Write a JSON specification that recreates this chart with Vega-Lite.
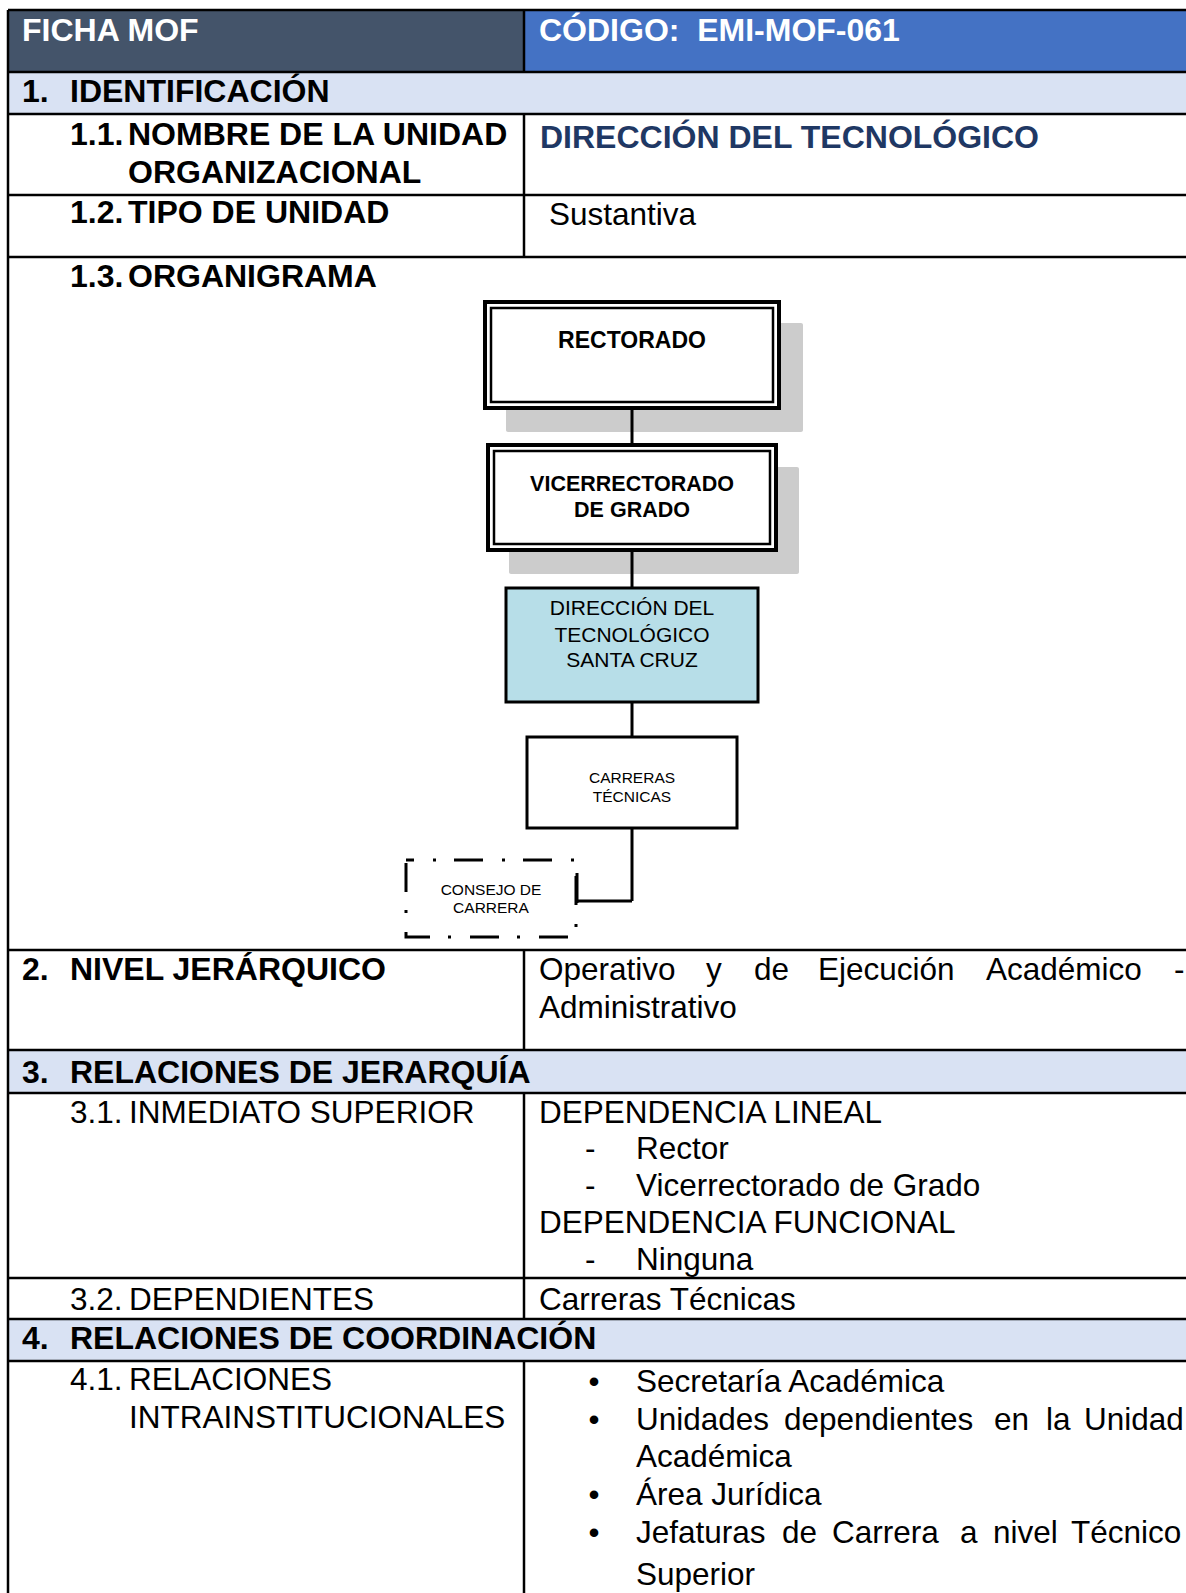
{
  "$schema": "https://vega.github.io/schema/vega-lite/v6.json",
  "width": 1186,
  "height": 1593,
  "padding": 0,
  "autosize": {"type": "none"},
  "background": "white",
  "config": {"view": {"stroke": null}, "text": {"font": "Liberation Sans"}},
  "datasets": {
    "fills": [
      {"k": "dark", "x": 8, "x2": 524, "y": 10, "y2": 72},
      {"k": "blue", "x": 524, "x2": 1186, "y": 10, "y2": 72},
      {"k": "band", "x": 8, "x2": 1186, "y": 72, "y2": 114},
      {"k": "band", "x": 8, "x2": 1186, "y": 1050, "y2": 1093},
      {"k": "band", "x": 8, "x2": 1186, "y": 1319, "y2": 1361},
      {"k": "shadow", "x": 506, "x2": 803, "y": 323, "y2": 432},
      {"k": "shadow", "x": 509, "x2": 799, "y": 467, "y2": 574}
    ],
    "boxes": [
      {"k": "outer", "x": 485, "x2": 779, "y": 302, "y2": 408},
      {"k": "inner", "x": 491, "x2": 773, "y": 308, "y2": 402},
      {"k": "outer", "x": 488, "x2": 776, "y": 445, "y2": 550},
      {"k": "inner", "x": 494, "x2": 770, "y": 451, "y2": 544},
      {"k": "unit", "x": 506, "x2": 758, "y": 588, "y2": 702},
      {"k": "plain", "x": 527, "x2": 737, "y": 737, "y2": 828},
      {"k": "dashed", "x": 406, "x2": 576, "y": 860, "y2": 937}
    ],
    "lines": [
      {"k": "table", "x": 8, "x2": 1186, "y": 10, "y2": 10},
      {"k": "table", "x": 8, "x2": 1186, "y": 72, "y2": 72},
      {"k": "table", "x": 8, "x2": 1186, "y": 114, "y2": 114},
      {"k": "table", "x": 8, "x2": 1186, "y": 195, "y2": 195},
      {"k": "table", "x": 8, "x2": 1186, "y": 257, "y2": 257},
      {"k": "table", "x": 8, "x2": 1186, "y": 950, "y2": 950},
      {"k": "table", "x": 8, "x2": 1186, "y": 1050, "y2": 1050},
      {"k": "table", "x": 8, "x2": 1186, "y": 1093, "y2": 1093},
      {"k": "table", "x": 8, "x2": 1186, "y": 1278, "y2": 1278},
      {"k": "table", "x": 8, "x2": 1186, "y": 1319, "y2": 1319},
      {"k": "table", "x": 8, "x2": 1186, "y": 1361, "y2": 1361},
      {"k": "table", "x": 8, "x2": 8, "y": 10, "y2": 1593},
      {"k": "table", "x": 524, "x2": 524, "y": 10, "y2": 72},
      {"k": "table", "x": 524, "x2": 524, "y": 114, "y2": 257},
      {"k": "table", "x": 524, "x2": 524, "y": 950, "y2": 1050},
      {"k": "table", "x": 524, "x2": 524, "y": 1093, "y2": 1319},
      {"k": "table", "x": 524, "x2": 524, "y": 1361, "y2": 1593},
      {"k": "link", "x": 632, "x2": 632, "y": 408, "y2": 445},
      {"k": "link", "x": 632, "x2": 632, "y": 550, "y2": 588},
      {"k": "link", "x": 632, "x2": 632, "y": 702, "y2": 737},
      {"k": "link", "x": 632, "x2": 632, "y": 828, "y2": 901},
      {"k": "link", "x": 632, "x2": 576, "y": 901, "y2": 901},
      {"k": "link", "x": 577, "x2": 577, "y": 873, "y2": 903}
    ],
    "texts": [
      {"k": "hw", "t": "FICHA MOF", "x": 22, "y": 41},
      {"k": "hw", "t": "CÓDIGO: \u00a0EMI-MOF-061", "x": 539, "y": 41},
      {"k": "b", "t": "1.", "x": 22, "y": 102},
      {"k": "b", "t": "IDENTIFICACIÓN", "x": 70, "y": 102},
      {"k": "b", "t": "1.1.", "x": 70, "y": 145},
      {"k": "b", "t": "NOMBRE DE LA UNIDAD", "x": 128, "y": 145},
      {"k": "b", "t": "ORGANIZACIONAL", "x": 128, "y": 183},
      {"k": "nb", "t": "DIRECCIÓN DEL TECNOLÓGICO", "x": 540, "y": 148},
      {"k": "b", "t": "1.2.", "x": 70, "y": 223},
      {"k": "b", "t": "TIPO DE UNIDAD", "x": 128, "y": 223},
      {"k": "r", "t": "Sustantiva", "x": 549, "y": 225},
      {"k": "b", "t": "1.3.", "x": 70, "y": 287},
      {"k": "b", "t": "ORGANIGRAMA", "x": 128, "y": 287},
      {"k": "b", "t": "2.", "x": 22, "y": 980},
      {"k": "b", "t": "NIVEL JERÁRQUICO", "x": 70, "y": 980},
      {"k": "r", "t": "Operativo", "x": 539, "y": 980},
      {"k": "r", "t": "y", "x": 706, "y": 980},
      {"k": "r", "t": "de", "x": 754, "y": 980},
      {"k": "r", "t": "Ejecución", "x": 818, "y": 980},
      {"k": "r", "t": "Académico", "x": 986, "y": 980},
      {"k": "r", "t": "-", "x": 1174, "y": 980},
      {"k": "r", "t": "Administrativo", "x": 539, "y": 1018},
      {"k": "b", "t": "3.", "x": 22, "y": 1083},
      {"k": "b", "t": "RELACIONES DE JERARQUÍA", "x": 70, "y": 1083},
      {"k": "r", "t": "3.1.", "x": 70, "y": 1123},
      {"k": "r", "t": "INMEDIATO SUPERIOR", "x": 129, "y": 1123},
      {"k": "r", "t": "DEPENDENCIA LINEAL", "x": 539, "y": 1123},
      {"k": "r", "t": "-", "x": 585, "y": 1159},
      {"k": "r", "t": "Rector", "x": 636, "y": 1159},
      {"k": "r", "t": "-", "x": 585, "y": 1196},
      {"k": "r", "t": "Vicerrectorado de Grado", "x": 636, "y": 1196},
      {"k": "r", "t": "DEPENDENCIA FUNCIONAL", "x": 539, "y": 1233},
      {"k": "r", "t": "-", "x": 585, "y": 1270},
      {"k": "r", "t": "Ninguna", "x": 636, "y": 1270},
      {"k": "r", "t": "3.2.", "x": 70, "y": 1310},
      {"k": "r", "t": "DEPENDIENTES", "x": 129, "y": 1310},
      {"k": "r", "t": "Carreras Técnicas", "x": 539, "y": 1310},
      {"k": "b", "t": "4.", "x": 22, "y": 1349},
      {"k": "b", "t": "RELACIONES DE COORDINACIÓN", "x": 70, "y": 1349},
      {"k": "r", "t": "4.1.", "x": 70, "y": 1390},
      {"k": "r", "t": "RELACIONES", "x": 129, "y": 1390},
      {"k": "r", "t": "INTRAINSTITUCIONALES", "x": 129, "y": 1428},
      {"k": "bullet", "t": "•", "x": 594, "y": 1392},
      {"k": "bullet", "t": "•", "x": 594, "y": 1430},
      {"k": "bullet", "t": "•", "x": 594, "y": 1505},
      {"k": "bullet", "t": "•", "x": 594, "y": 1543},
      {"k": "r", "t": "Secretaría Académica", "x": 636, "y": 1392},
      {"k": "r", "t": "Unidades", "x": 636, "y": 1430},
      {"k": "r", "t": "dependientes", "x": 784, "y": 1430},
      {"k": "r", "t": "en", "x": 994, "y": 1430},
      {"k": "r", "t": "la", "x": 1046, "y": 1430},
      {"k": "r", "t": "Unidad", "x": 1084, "y": 1430},
      {"k": "r", "t": "Académica", "x": 636, "y": 1467},
      {"k": "r", "t": "Área Jurídica", "x": 636, "y": 1505},
      {"k": "r", "t": "Jefaturas", "x": 636, "y": 1543},
      {"k": "r", "t": "de", "x": 782, "y": 1543},
      {"k": "r", "t": "Carrera", "x": 832, "y": 1543},
      {"k": "r", "t": "a", "x": 960, "y": 1543},
      {"k": "r", "t": "nivel", "x": 993, "y": 1543},
      {"k": "r", "t": "Técnico", "x": 1071, "y": 1543},
      {"k": "r", "t": "Superior", "x": 636, "y": 1585},
      {"k": "o1", "t": "RECTORADO", "x": 632, "y": 348},
      {"k": "o2", "t": "VICERRECTORADO", "x": 632, "y": 491},
      {"k": "o2", "t": "DE GRADO", "x": 632, "y": 517},
      {"k": "o3", "t": "DIRECCIÓN DEL", "x": 632, "y": 615},
      {"k": "o3", "t": "TECNOLÓGICO", "x": 632, "y": 642},
      {"k": "o3", "t": "SANTA CRUZ", "x": 632, "y": 667},
      {"k": "o4", "t": "CARRERAS", "x": 632, "y": 783},
      {"k": "o4", "t": "TÉCNICAS", "x": 632, "y": 802},
      {"k": "o4", "t": "CONSEJO DE", "x": 491, "y": 895},
      {"k": "o4", "t": "CARRERA", "x": 491, "y": 913}
    ]
  },
  "encoding": {
    "x": {"field": "x", "type": "quantitative", "scale": {"domain": [0, 1186], "nice": false, "zero": false}, "axis": null},
    "y": {"field": "y", "type": "quantitative", "scale": {"domain": [0, 1593], "nice": false, "zero": false, "reverse": true}, "axis": null}
  },
  "layer": [
    {"data": {"name": "fills"}, "transform": [{"filter": "datum.k == 'dark'"}], "mark": {"type": "rect", "fill": "#44546A"}, "encoding": {"x2": {"field": "x2"}, "y2": {"field": "y2"}}},
    {"data": {"name": "fills"}, "transform": [{"filter": "datum.k == 'blue'"}], "mark": {"type": "rect", "fill": "#4472C4"}, "encoding": {"x2": {"field": "x2"}, "y2": {"field": "y2"}}},
    {"data": {"name": "fills"}, "transform": [{"filter": "datum.k == 'band'"}], "mark": {"type": "rect", "fill": "#D9E2F3"}, "encoding": {"x2": {"field": "x2"}, "y2": {"field": "y2"}}},
    {"data": {"name": "fills"}, "transform": [{"filter": "datum.k == 'shadow'"}], "mark": {"type": "rect", "fill": "#CCCCCC", "cornerRadius": 2}, "encoding": {"x2": {"field": "x2"}, "y2": {"field": "y2"}}},
    {"data": {"name": "boxes"}, "transform": [{"filter": "datum.k == 'outer'"}], "mark": {"type": "rect", "fill": "white", "stroke": "black", "strokeWidth": 4}, "encoding": {"x2": {"field": "x2"}, "y2": {"field": "y2"}}},
    {"data": {"name": "boxes"}, "transform": [{"filter": "datum.k == 'inner'"}], "mark": {"type": "rect", "fill": "white", "stroke": "black", "strokeWidth": 2.5}, "encoding": {"x2": {"field": "x2"}, "y2": {"field": "y2"}}},
    {"data": {"name": "boxes"}, "transform": [{"filter": "datum.k == 'unit'"}], "mark": {"type": "rect", "fill": "#B7DEE8", "stroke": "black", "strokeWidth": 3}, "encoding": {"x2": {"field": "x2"}, "y2": {"field": "y2"}}},
    {"data": {"name": "boxes"}, "transform": [{"filter": "datum.k == 'plain'"}], "mark": {"type": "rect", "fill": "white", "stroke": "black", "strokeWidth": 3}, "encoding": {"x2": {"field": "x2"}, "y2": {"field": "y2"}}},
    {"data": {"name": "boxes"}, "transform": [{"filter": "datum.k == 'dashed'"}], "mark": {"type": "rect", "fill": "white", "stroke": "black", "strokeWidth": 3, "strokeDash": [29, 19, 3, 18], "strokeDashOffset": 21}, "encoding": {"x2": {"field": "x2"}, "y2": {"field": "y2"}}},
    {"data": {"name": "lines"}, "transform": [{"filter": "datum.k == 'table'"}], "mark": {"type": "rule", "stroke": "black", "strokeWidth": 2.5}, "encoding": {"x2": {"field": "x2"}, "y2": {"field": "y2"}}},
    {"data": {"name": "lines"}, "transform": [{"filter": "datum.k == 'link'"}], "mark": {"type": "rule", "stroke": "black", "strokeWidth": 3}, "encoding": {"x2": {"field": "x2"}, "y2": {"field": "y2"}}},
    {"data": {"name": "texts"}, "transform": [{"filter": "datum.k == 'hw'"}], "mark": {"type": "text", "align": "left", "baseline": "alphabetic", "fontSize": 32, "fontWeight": "bold", "fill": "white"}, "encoding": {"text": {"field": "t"}}},
    {"data": {"name": "texts"}, "transform": [{"filter": "datum.k == 'b'"}], "mark": {"type": "text", "align": "left", "baseline": "alphabetic", "fontSize": 32, "fontWeight": "bold", "fill": "black"}, "encoding": {"text": {"field": "t"}}},
    {"data": {"name": "texts"}, "transform": [{"filter": "datum.k == 'nb'"}], "mark": {"type": "text", "align": "left", "baseline": "alphabetic", "fontSize": 32, "fontWeight": "bold", "fill": "#1F3864"}, "encoding": {"text": {"field": "t"}}},
    {"data": {"name": "texts"}, "transform": [{"filter": "datum.k == 'r'"}], "mark": {"type": "text", "align": "left", "baseline": "alphabetic", "fontSize": 31.5, "fill": "black"}, "encoding": {"text": {"field": "t"}}},
    {"data": {"name": "texts"}, "transform": [{"filter": "datum.k == 'bullet'"}], "mark": {"type": "text", "align": "center", "baseline": "alphabetic", "fontSize": 31.5, "fill": "black"}, "encoding": {"text": {"field": "t"}}},
    {"data": {"name": "texts"}, "transform": [{"filter": "datum.k == 'o1'"}], "mark": {"type": "text", "align": "center", "baseline": "alphabetic", "fontSize": 23, "fontWeight": "bold", "fill": "black"}, "encoding": {"text": {"field": "t"}}},
    {"data": {"name": "texts"}, "transform": [{"filter": "datum.k == 'o2'"}], "mark": {"type": "text", "align": "center", "baseline": "alphabetic", "fontSize": 21.5, "fontWeight": "bold", "fill": "black"}, "encoding": {"text": {"field": "t"}}},
    {"data": {"name": "texts"}, "transform": [{"filter": "datum.k == 'o3'"}], "mark": {"type": "text", "align": "center", "baseline": "alphabetic", "fontSize": 21, "fill": "black"}, "encoding": {"text": {"field": "t"}}},
    {"data": {"name": "texts"}, "transform": [{"filter": "datum.k == 'o4'"}], "mark": {"type": "text", "align": "center", "baseline": "alphabetic", "fontSize": 15.5, "fill": "black"}, "encoding": {"text": {"field": "t"}}}
  ]
}
